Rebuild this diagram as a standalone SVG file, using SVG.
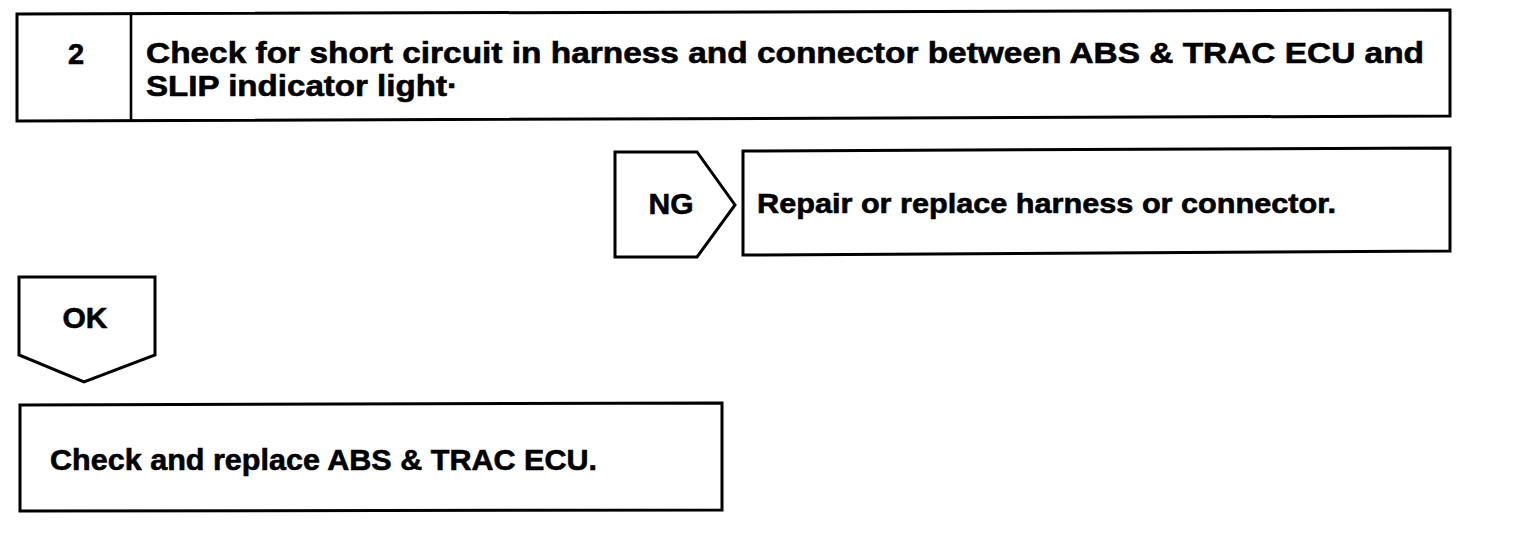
<svg xmlns="http://www.w3.org/2000/svg" width="1520" height="546" viewBox="0 0 1520 546">
<style>
.box{fill:#fff;stroke:#000;stroke-width:3;stroke-linejoin:miter}
.t{font-family:"Liberation Sans",Arial,sans-serif;font-weight:bold;fill:#000;stroke:#000;stroke-width:0.6}
</style>
<rect width="1520" height="546" fill="#fff"/>
<g id="step2">
<polygon class="box" points="17,14 1450,10 1450,116 17,121"/>
<line x1="131" y1="14" x2="131" y2="121" stroke="#000" stroke-width="2.6"/>
<text class="t" x="76" y="64" font-size="29" text-anchor="middle">2</text>
<text class="t" x="146" y="63" font-size="29" textLength="1278" lengthAdjust="spacingAndGlyphs">Check for short circuit in harness and connector between ABS &amp; TRAC ECU and</text>
<text class="t" x="146" y="96" font-size="29" textLength="312" lengthAdjust="spacingAndGlyphs">SLIP indicator light·</text>
</g>
<g id="repair">
<polygon class="box" points="743,151 1450,148 1450,251 743,255"/>
<text class="t" x="757" y="213" font-size="28" textLength="579" lengthAdjust="spacingAndGlyphs">Repair or replace harness or connector.</text>
</g>
<g id="replace-ecu">
<polygon class="box" points="20,405 722,403 722,510 20,511"/>
<text class="t" x="50" y="470" font-size="29" textLength="547" lengthAdjust="spacingAndGlyphs">Check and replace ABS &amp; TRAC ECU.</text>
</g>
<g id="connectors">
<g id="ng">
<polygon class="box" points="615,152 697,152 735,205 697,257 615,257"/>
<text class="t" x="671" y="214" font-size="30" text-anchor="middle">NG</text>
</g>
<g id="ok">
<polygon class="box" points="19,277 155,277 155,355 84,382 19,355"/>
<text class="t" x="85" y="328" font-size="30" text-anchor="middle">OK</text>
</g>
</g>
</svg>
